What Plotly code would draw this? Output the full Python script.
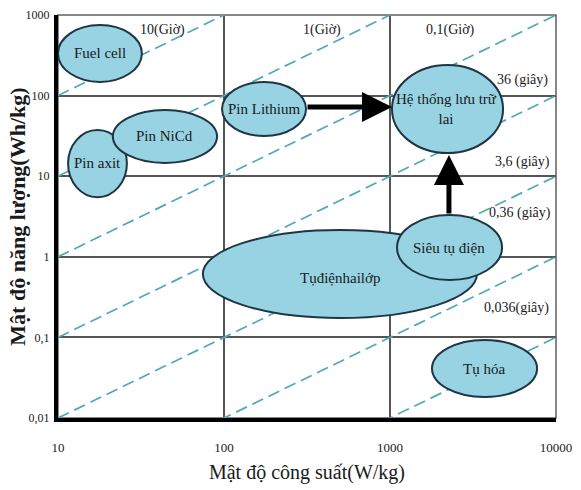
import math
import plotly.graph_objects as go

# Discharge-time lines (hours): E = P * t
line_times_h = [10, 1, 0.1, 0.01, 0.001, 0.0001, 0.00001]
p_span = [10, 10000]

# Technology regions (W/kg, Wh/kg bounds) and label positions
tech_names = ["Fuel cell", "Pin axit", "Pin NiCd", "Pin Lithium",
              "Hệ thống lưu trữ<br>lai", "Tụđiệnhailớp", "Siêu tụ điện", "Tụ hóa"]
p_min = [10, 11.5, 21.4, 97.3, 1028, 74.6, 1102, 1791]
p_max = [32, 26, 90.8, 312, 4797, 3342, 4732, 7690]
e_min = [148, 5.5, 14.6, 31.5, 19.4, 0.174, 0.515, 0.0182]
e_max = [752, 37.4, 66.2, 147.6, 240, 2.15, 3.30, 0.0929]
label_p = [17.9, 17.3, 44.1, 174, 2203, 500, 2280, 3707]
label_e = [338, 14.4, 31.1, 68.2, 68.2, 0.546, 1.30, 0.0411]

# Time labels
time_labels = ["10(Giờ)", "1(Giờ)", "0,1(Giờ)", "36 (giây)", "3,6 (giây)",
               "0,36 (giây)", "0,036(giây)"]
time_label_p = [42.4, 389, 2328, 6324, 6324, 6067, 5821]
time_label_e = [652, 652, 652, 156, 15, 3.49, 0.232]

# Arrows (tail -> head)
arrow_tail_p = [312, 2265]
arrow_tail_e = [72.2, 3.30]
arrow_head_p = [1028, 2265]
arrow_head_e = [72.2, 18.3]

x_ticks = [10, 100, 1000, 10000]
x_ticktext = ["10", "100", "1000", "10000"]
y_ticks = [0.01, 0.1, 1, 10, 100, 1000]
y_ticktext = ["0,01", "0,1", "1", "10", "100", "1000"]

SERIF = "Liberation Serif, Times New Roman, serif"
fig = go.Figure()

for t in line_times_h:
    fig.add_trace(go.Scatter(
        x=p_span, y=[p * t for p in p_span], mode="lines",
        line=dict(color="#4FA9B9", width=1.7, dash="12px,6px"),
        hoverinfo="skip", showlegend=False))

shapes = []
for i in range(len(tech_names)):
    shapes.append(dict(type="circle", xref="x", yref="y",
                       x0=p_min[i], x1=p_max[i], y0=e_min[i], y1=e_max[i],
                       fillcolor="#98D3E3", line=dict(color="#1E3545", width=2),
                       layer="above"))
# outer frame (top/right thin grey)
shapes.append(dict(type="rect", xref="paper", yref="paper", x0=0, x1=1, y0=0, y1=1,
                   line=dict(color="#606060", width=1.5), layer="below"))

annotations = []
for i, name in enumerate(tech_names):
    annotations.append(dict(x=math.log10(label_p[i]), y=math.log10(label_e[i]),
                            xref="x", yref="y", text=name, showarrow=False,
                            font=dict(family=SERIF, size=15, color="#1a1a1a")))
for i, lab in enumerate(time_labels):
    annotations.append(dict(x=math.log10(time_label_p[i]), y=math.log10(time_label_e[i]),
                            xref="x", yref="y", text=lab, showarrow=False,
                            font=dict(family=SERIF, size=14, color="#1a1a1a")))
for i in range(len(arrow_tail_p)):
    annotations.append(dict(x=math.log10(arrow_head_p[i]), y=math.log10(arrow_head_e[i]),
                            ax=math.log10(arrow_tail_p[i]), ay=math.log10(arrow_tail_e[i]),
                            xref="x", yref="y", axref="x", ayref="y", text="",
                            showarrow=True, arrowhead=2, arrowsize=1.2,
                            arrowwidth=5, arrowcolor="black", standoff=0))
# y-axis title
annotations.append(dict(x=-0.082, y=0.5, xref="paper", yref="paper",
                        xanchor="center", yanchor="middle", textangle=-90,
                        text="<b>Mật độ năng lượng(Wh/kg)</b>", showarrow=False,
                        font=dict(family=SERIF, size=22, color="#1a1a1a")))

fig.update_layout(
    width=581, height=490,
    margin=dict(l=58, r=25, t=15, b=72),
    paper_bgcolor="white", plot_bgcolor="white",
    shapes=shapes, annotations=annotations,
    showlegend=False,
    xaxis=dict(type="log", range=[1, 4], tickvals=x_ticks, ticktext=x_ticktext,
               automargin=False,
               showgrid=True, gridcolor="#555555", gridwidth=1.5,
               showline=True, linecolor="black", linewidth=4,
               ticks="", ticklabelstandoff=14, zeroline=False,
               tickfont=dict(family=SERIF, size=13, color="#1a1a1a"),
               title=dict(text="Mật độ công suất(W/kg)", standoff=12,
                          font=dict(family=SERIF, size=20, color="#1a1a1a"))),
    yaxis=dict(type="log", range=[-2, 3], tickvals=y_ticks, ticktext=y_ticktext,
               automargin=False,
               showgrid=True, gridcolor="#555555", gridwidth=1.5,
               showline=True, linecolor="black", linewidth=4,
               ticks="", ticklabelstandoff=2, zeroline=False,
               tickfont=dict(family=SERIF, size=12, color="#1a1a1a")),
)

fig.write_html("out.html", config={"displayModeBar": False},
               post_script="document.body.style.margin='0';")
